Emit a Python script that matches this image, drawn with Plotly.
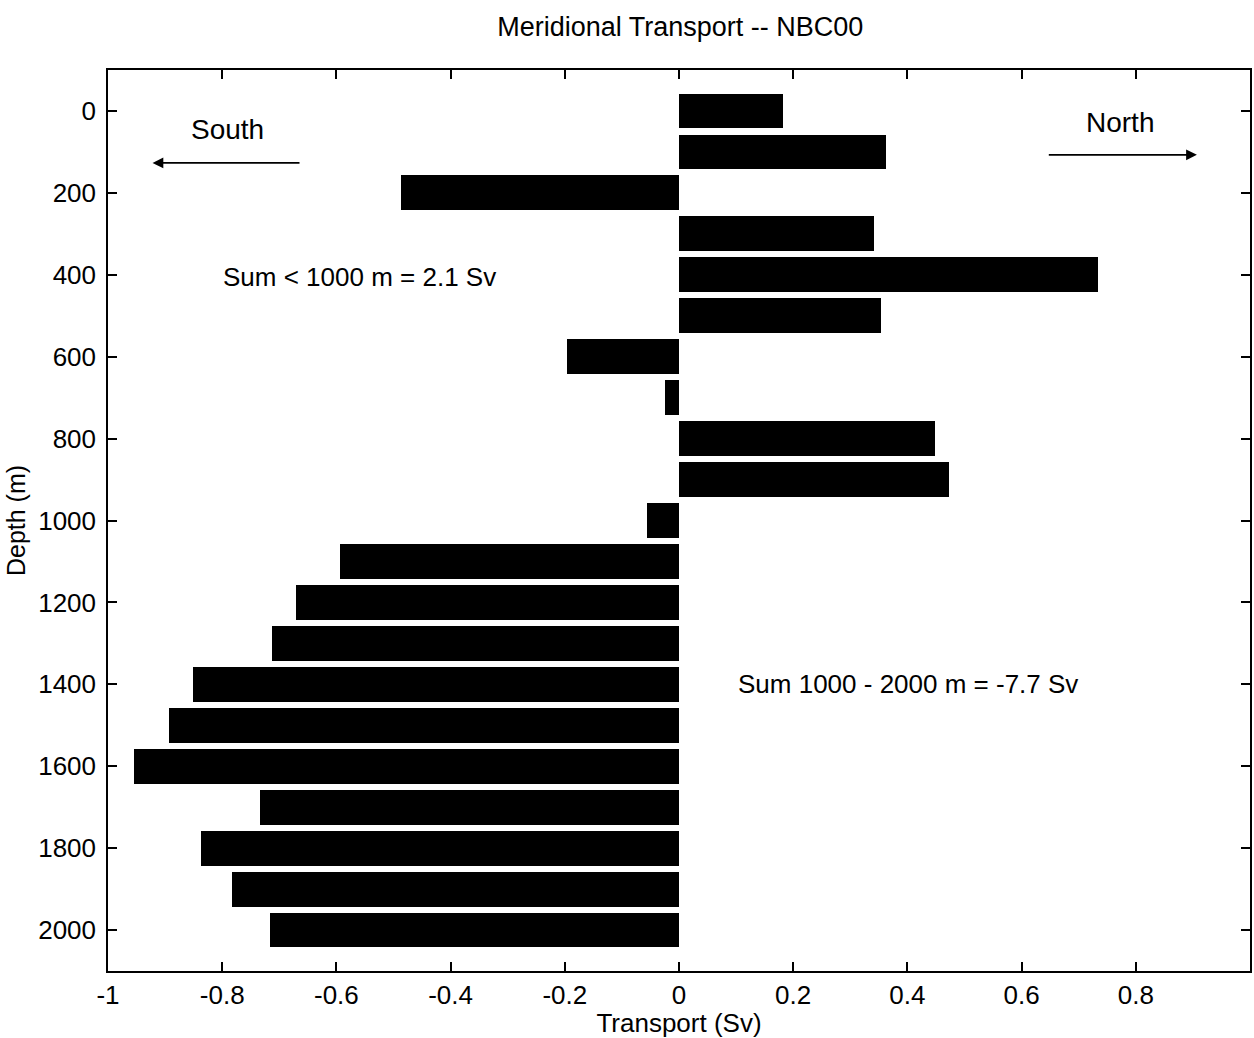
import plotly.graph_objects as go

depths = [0, 100, 200, 300, 400, 500, 600, 700, 800, 900, 1000,
          1100, 1200, 1300, 1400, 1500, 1600, 1700, 1800, 1900, 2000]
transport = [0.182, 0.362, -0.487, 0.342, 0.734, 0.353, -0.197, -0.024, 0.449, 0.472, -0.056,
             -0.594, -0.671, -0.713, -0.851, -0.894, -0.955, -0.734, -0.838, -0.783, -0.716]
x_ticks = [-1, -0.8, -0.6, -0.4, -0.2, 0, 0.2, 0.4, 0.6, 0.8, 1]
x_labels = ["-1", "-0.8", "-0.6", "-0.4", "-0.2", "0", "0.2", "0.4", "0.6", "0.8", "1"]
y_ticks = [0, 200, 400, 600, 800, 1000, 1200, 1400, 1600, 1800, 2000]

font = "Liberation Sans, Arial, sans-serif"

fig = go.Figure(go.Bar(
    x=transport, y=depths, orientation="h", width=85,
    marker=dict(color="black", line=dict(width=0)),
))

axis_common = dict(showline=True, linecolor="black", linewidth=1.5, mirror="ticks",
                   ticks="inside", ticklen=9, tickcolor="black", tickwidth=1.5,
                   showgrid=False, zeroline=False,
                   tickfont=dict(size=26, color="black", family=font))

fig.update_xaxes(range=[-1, 1], tickvals=x_ticks, ticktext=x_labels,
                 title=dict(text="Transport (Sv)", font=dict(size=26, color="black", family=font), standoff=4),
                 **axis_common)
fig.update_yaxes(range=[2100, -100], tickvals=y_ticks, ticklabelstandoff=5,
                 title=dict(text="Depth (m)", font=dict(size=25, color="black", family=font), standoff=5),
                 **axis_common)

annots = [
    dict(x=-0.922, y=127, ax=-0.662, ay=127, xref="x", yref="y", axref="x", ayref="y",
         showarrow=True, arrowhead=2, arrowsize=1.2, arrowwidth=1.8, arrowcolor="black", text=""),
    dict(x=0.907, y=107, ax=0.645, ay=107, xref="x", yref="y", axref="x", ayref="y",
         showarrow=True, arrowhead=2, arrowsize=1.2, arrowwidth=1.8, arrowcolor="black", text=""),
    dict(x=-0.791, y=46, text="South", showarrow=False, xref="x", yref="y",
         font=dict(size=28, color="black", family=font)),
    dict(x=0.772, y=27, text="North", showarrow=False, xref="x", yref="y",
         font=dict(size=28, color="black", family=font)),
    dict(x=-0.802, y=405, text="Sum < 1000 m = 2.1 Sv", showarrow=False, xref="x", yref="y",
         xanchor="left", font=dict(size=26, color="black", family=font)),
    dict(x=0.0996, y=1398, text="Sum 1000 - 2000 m = -7.7 Sv", showarrow=False, xref="x", yref="y",
         xanchor="left", font=dict(size=26, color="black", family=font)),
]

fig.update_layout(
    width=1254, height=1038,
    margin=dict(l=108, r=2, t=70, b=67),
    paper_bgcolor="white", plot_bgcolor="white",
    title=dict(text="Meridional Transport -- NBC00", x=0.5425, xanchor="center",
               y=1 - 27 / 1038, yanchor="middle",
               font=dict(size=27, color="black", family=font)),
    annotations=annots,
    showlegend=False,
    bargap=0,
)

fig.write_html("out.html", config={"displayModeBar": False},
               post_script="document.body.style.margin='0';document.body.style.overflow='hidden';")
